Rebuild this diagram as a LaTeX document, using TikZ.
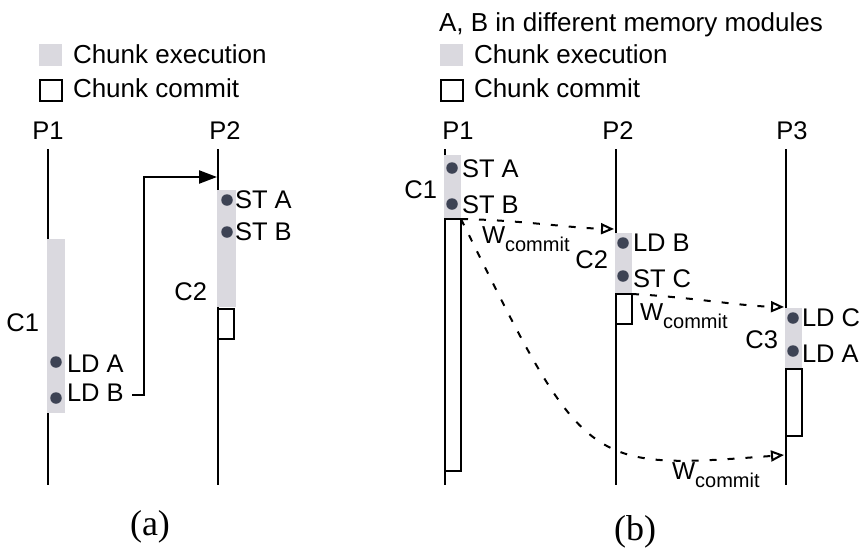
\documentclass[tikz,border=0pt]{standalone}
\usepackage{fontspec}
\setmainfont{Liberation Sans}
\newfontfamily\capfont{Liberation Serif}
\usetikzlibrary{arrows.meta}
\definecolor{execgray}{HTML}{DAD9DF}
\definecolor{dotgray}{HTML}{3D4354}
\tikzset{
  txt/.style={inner sep=0pt, outer sep=0pt, font=\fontsize{25.5}{30}\selectfont},
  bigtxt/.style={inner sep=0pt, outer sep=0pt, anchor=base west, font=\fontsize{26}{31}\selectfont},
  lbl/.style={txt, anchor=base west},
  chunkname/.style={txt, anchor=base east},
  procname/.style={txt, anchor=base},
  caption/.style={inner sep=0pt, anchor=base, font=\capfont\fontsize{36}{40}\selectfont},
  timeline/.style={line width=2.3pt},
  execbar/.style={fill=execgray, draw=none, inner sep=0pt, outer sep=0pt, anchor=north west, rectangle},
  commitbox/.style={fill=white, draw=black, line width=2.3pt, inner sep=0pt, outer sep=0pt, anchor=north west, rectangle},
  memop/.style={circle, fill=dotgray, draw=none, minimum size=11.5pt, inner sep=0pt, outer sep=0pt},
  deparrow/.style={line width=2.3pt, -{Triangle[length=18pt,width=13pt]}},
  commitarrow/.style={line width=2pt, dash pattern=on 7pt off 11pt,
    -{Triangle[open,length=13pt,width=11pt,line width=2pt]}},
  wlabel/.style={txt, anchor=base west, font=\fontsize{24.5}{30}\selectfont},
}
\newcommand{\wcommit}{W\raisebox{-8pt}{\fontsize{20}{22}\selectfont commit}}
\begin{document}
\begin{tikzpicture}[x=1pt, y=-1pt]
\useasboundingbox (0,0) rectangle (862,550);

% ---------------- (a) ----------------
% legend
\node[execbar, minimum width=23pt, minimum height=22pt] (a-legexec) at (39,44) {};
\node[bigtxt] (a-legexectxt) at (73,63) {Chunk execution};
\node[commitbox, minimum width=22pt, minimum height=21pt] (a-legcommit) at (40,80) {};
\node[bigtxt] (a-legcommittxt) at (73,97) {Chunk commit};

% processors
\node[procname] (a-p1) at (48,139) {P1};
\node[procname] (a-p2) at (225,139) {P2};
\coordinate (a-p1top) at (48,149);
\coordinate (a-p1bot) at (48,485);
\coordinate (a-p2top) at (218,149);
\coordinate (a-p2bot) at (218,485);
\draw[timeline] (a-p1top) -- (a-p1bot);
\draw[timeline] (a-p2top) -- (a-p2bot);

% chunk C1 on P1
\node[execbar, minimum width=18pt, minimum height=174pt] (a-c1) at (47,239) {};
\node[chunkname] (a-c1name) at (39,331) {C1};
\node[memop] (a-lda) at (56,362) {};
\node[lbl] (a-ldatxt) at (67,372) {LD A};
\node[memop] (a-ldb) at (56,398) {};
\node[lbl] (a-ldbtxt) at (67,401) {LD B};

% chunk C2 on P2
\node[execbar, minimum width=19pt, minimum height=117pt] (a-c2) at (217,190) {};
\node[chunkname] (a-c2name) at (207,300) {C2};
\node[memop] (a-sta) at (227,200) {};
\node[lbl] (a-statxt) at (235,208) {ST A};
\node[memop] (a-stb) at (227,232) {};
\node[lbl] (a-stbtxt) at (235,240) {ST B};
\node[commitbox, minimum width=16pt, minimum height=30pt] (a-c2commit) at (218,309) {};

% dependence LD B -> ST A
\coordinate (a-depsrc) at (132,395);
\coordinate (a-depdst) at (217,177);
\draw[deparrow] (a-depsrc) -- ++(12,0) |- (a-depdst);

\node[caption] (a-cap) at (150,535) {(a)};

% ---------------- (b) ----------------
\node[bigtxt] (b-title) at (439,31) {A, B in different memory modules};
\node[execbar, minimum width=23pt, minimum height=22pt] (b-legexec) at (440,44) {};
\node[bigtxt] (b-legexectxt) at (474,63) {Chunk execution};
\node[commitbox, minimum width=22pt, minimum height=21pt] (b-legcommit) at (441,80) {};
\node[bigtxt] (b-legcommittxt) at (474,97) {Chunk commit};

% processors
\node[procname] (b-p1) at (458,139) {P1};
\node[procname] (b-p2) at (618,139) {P2};
\node[procname] (b-p3) at (792,139) {P3};
\coordinate (b-p1top) at (445,149);
\coordinate (b-p1bot) at (445,485);
\coordinate (b-p2top) at (616,149);
\coordinate (b-p2bot) at (616,485);
\coordinate (b-p3top) at (786,149);
\coordinate (b-p3bot) at (786,485);
\draw[timeline] (b-p1top) -- (b-p1bot);
\draw[timeline] (b-p2top) -- (b-p2bot);
\draw[timeline] (b-p3top) -- (b-p3bot);

% chunk C1 on P1
\node[execbar, minimum width=17pt, minimum height=64pt] (b-c1) at (444,155) {};
\node[chunkname] (b-c1name) at (437,198) {C1};
\node[memop] (b-sta) at (452,168) {};
\node[lbl] (b-statxt) at (462,177) {ST A};
\node[memop] (b-stb) at (452,204) {};
\node[lbl] (b-stbtxt) at (462,213) {ST B};
\node[commitbox, minimum width=16pt, minimum height=252pt] (b-c1commit) at (445,219) {};

% chunk C2 on P2
\node[execbar, minimum width=17pt, minimum height=61pt] (b-c2) at (615,233) {};
\node[chunkname] (b-c2name) at (608,268) {C2};
\node[memop] (b-ldb) at (623,243) {};
\node[lbl] (b-ldbtxt) at (633,251) {LD B};
\node[memop] (b-stc) at (623,276) {};
\node[lbl] (b-stctxt) at (633,287) {ST C};
\node[commitbox, minimum width=16pt, minimum height=30pt] (b-c2commit) at (616,294) {};

% chunk C3 on P3
\node[execbar, minimum width=17pt, minimum height=60pt] (b-c3) at (785,308) {};
\node[chunkname] (b-c3name) at (778,348) {C3};
\node[memop] (b-ldc) at (793,318) {};
\node[lbl] (b-ldctxt) at (802,326) {LD C};
\node[memop] (b-lda) at (793,351) {};
\node[lbl] (b-ldatxt) at (802,362) {LD A};
\node[commitbox, minimum width=16pt, minimum height=67pt] (b-c3commit) at (786,369) {};

% commit propagation
\coordinate (b-w1dst) at (614,229);
\coordinate (b-w2dst) at (784,307);
\coordinate (b-w3dst) at (784,455);
\draw[commitarrow] (b-c1commit.north east) .. controls (520,220) and (570,228) .. (b-w1dst);
\draw[commitarrow] (b-c2commit.north east) .. controls (690,297) and (740,306) .. (b-w2dst);
\draw[commitarrow] (b-c1commit.north east) .. controls (585,470) .. (b-w3dst);

\node[wlabel] (b-w1) at (482,243) {\wcommit};
\node[wlabel] (b-w2) at (640,320) {\wcommit};
\node[wlabel] (b-w3) at (672,479) {\wcommit};

\node[caption] (b-cap) at (635,540) {(b)};
\end{tikzpicture}
\end{document}
